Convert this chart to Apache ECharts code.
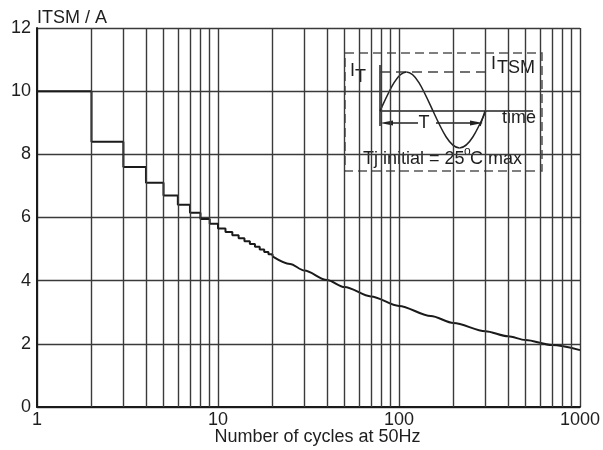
<!DOCTYPE html>
<html>
<head>
<meta charset="utf-8">
<script src="https://cdn.jsdelivr.net/npm/echarts@6/dist/echarts.min.js"></script>
<style>html,body{margin:0;padding:0;background:#fff}#c{width:603px;height:450px}</style>
</head>
<body>
<div id="c"></div>
<script>
// Step part of the curve (cycles 1..20)
const stepCycles = [1,2,3,4,5,6,7,8,9,10,11,12,13,14,15,16,17,18,19,20];
const stepItsm   = [10.0,8.4,7.6,7.1,6.7,6.4,6.15,5.95,5.8,5.65,5.54,5.44,5.34,5.25,5.16,5.07,4.99,4.91,4.84,4.77];
// Smooth part of the curve (cycles 20..1000)
const curveCycles = [20,25,30,40,50,70,100,150,200,300,400,500,700,1000];
const curveItsm   = [4.77,4.53,4.32,4.02,3.8,3.5,3.2,2.88,2.66,2.4,2.24,2.12,1.96,1.8];
// Minor vertical grid lines of the log axis
const minorGridX = [2,3,4,5,6,7,8,9,20,30,40,50,60,70,80,90,200,300,400,500,600,700,800,900];
const xTickLabels = ['1','10','100','1000'];
const yTickLabels = ['0','2','4','6','8','10','12'];

const FONT = '"Liberation Sans", Arial, sans-serif';
const TXT = '#1e1e1e';
const GRID = '#3a3a3a';

const chart = echarts.init(document.getElementById('c'));
const zip = (a, b) => a.map((v, i) => [v, b[i]]);

const sinePts = [
  [380,111, 388.9,91.6, 397,72, 406.5,72],
  [406.5,72, 416,72, 424.1,91.6, 433,111],
  [433,111, 441.9,130.4, 450,148, 459.5,148],
  [459.5,148, 469,148, 477.1,130.4, 486,111]
];

chart.setOption({
  animation: false,
  backgroundColor: '#fff',
  grid: { left: 37, right: 23, top: 28, bottom: 43, containLabel: false, outerBoundsMode: 'none' },
  xAxis: {
    type: 'log', logBase: 10, min: 1, max: 1000,
    name: 'Number of cycles at 50Hz',
    nameLocation: 'middle', nameGap: 30, nameMoveOverlap: false,
    nameTextStyle: { fontFamily: FONT, fontSize: 18, color: TXT, verticalAlign: 'middle', padding: [0,0,0,18] },
    axisLine: { show: true, lineStyle: { color: '#1a1a1a', width: 2 } },
    axisTick: { show: false },
    axisLabel: { fontFamily: FONT, fontSize: 18, color: TXT, margin: 4,
      formatter: v => { const s = String(Math.round(v)); return xTickLabels.indexOf(s) >= 0 ? s : ''; } },
    splitLine: { show: true, lineStyle: { color: GRID, width: 1.4 } }
  },
  yAxis: {
    type: 'value', min: 0, max: 12, interval: 2,
    name: 'ITSM / A', nameLocation: 'end', nameGap: 10, nameMoveOverlap: false,
    nameTextStyle: { fontFamily: FONT, fontSize: 18, color: TXT, align: 'left', verticalAlign: 'middle' },
    axisLine: { show: true, lineStyle: { color: '#1a1a1a', width: 2 } },
    axisTick: { show: false },
    axisLabel: { fontFamily: FONT, fontSize: 18, color: TXT, margin: 6,
      formatter: v => yTickLabels[Math.round(v / 2)] },
    splitLine: { show: true, lineStyle: { color: GRID, width: 1.4 } }
  },
  series: [
    {
      type: 'line', data: [], silent: true, z: 1,
      markLine: {
        silent: true, symbol: ['none','none'], label: { show: false },
        lineStyle: { color: GRID, width: 1.4, type: 'solid' },
        data: minorGridX.map(v => ({ xAxis: v }))
      }
    },
    {
      type: 'line', step: 'end', showSymbol: false, symbol: 'none', z: 3,
      data: zip(stepCycles, stepItsm),
      lineStyle: { color: '#1a1a1a', width: 2 }
    },
    {
      type: 'line', smooth: 0.3, smoothMonotone: 'x', showSymbol: false, symbol: 'none', z: 3,
      data: zip(curveCycles, curveItsm),
      lineStyle: { color: '#1a1a1a', width: 2 }
    }
  ],
  graphic: [{
    type: 'group', z: 100,
    children: [
      { type: 'rect', shape: { x: 345, y: 53, width: 197, height: 118 },
        style: { fill: '#fff', stroke: '#555', lineWidth: 1.5, lineDash: [9,5] } },
      { type: 'line', shape: { x1: 380, y1: 65, x2: 380, y2: 126 }, style: { stroke: '#222', lineWidth: 1.5 } },
      { type: 'line', shape: { x1: 380, y1: 111, x2: 533, y2: 111 }, style: { stroke: '#222', lineWidth: 1.5 } },
      { type: 'line', shape: { x1: 380, y1: 72, x2: 492, y2: 72 }, style: { stroke: '#444', lineWidth: 1.5, lineDash: [10,6] } },
      ...sinePts.map(p => ({ type: 'bezierCurve',
        shape: { x1: p[0], y1: p[1], cpx1: p[2], cpy1: p[3], cpx2: p[4], cpy2: p[5], x2: p[6], y2: p[7] },
        style: { stroke: '#222', lineWidth: 1.5, fill: null } })),
      { type: 'line', shape: { x1: 390, y1: 123, x2: 418, y2: 123 }, style: { stroke: '#222', lineWidth: 1.5 } },
      { type: 'line', shape: { x1: 436, y1: 123, x2: 474, y2: 123 }, style: { stroke: '#222', lineWidth: 1.5 } },
      { type: 'polygon', shape: { points: [[380,123],[393,120.5],[393,125.5]] }, style: { fill: '#222' } },
      { type: 'polygon', shape: { points: [[483,123],[470,120.5],[470,125.5]] }, style: { fill: '#222' } },
      { type: 'line', shape: { x1: 485, y1: 111, x2: 480, y2: 126 }, style: { stroke: '#222', lineWidth: 1.5 } },
      { type: 'text', x: 350, y: 71, style: { text: 'I', font: '18px ' + FONT, fill: TXT, verticalAlign: 'middle' } },
      { type: 'text', x: 355, y: 77, style: { text: 'T', font: '18px ' + FONT, fill: TXT, verticalAlign: 'middle' } },
      { type: 'text', x: 491, y: 64, style: { text: 'I', font: '18px ' + FONT, fill: TXT, verticalAlign: 'middle' } },
      { type: 'text', x: 497, y: 68.5, style: { text: 'TSM', font: '18px ' + FONT, fill: TXT, verticalAlign: 'middle' } },
      { type: 'text', x: 424, y: 123, style: { text: 'T', font: '18px ' + FONT, fill: TXT, align: 'center', verticalAlign: 'middle' } },
      { type: 'text', x: 502, y: 118.5, style: { text: 'time', font: '18px ' + FONT, fill: TXT, verticalAlign: 'middle' } },
      { type: 'text', x: 363, y: 159, style: { text: 'Tj initial = 25', font: '18px ' + FONT, fill: TXT, verticalAlign: 'middle' } },
      { type: 'text', x: 464, y: 152, style: { text: 'o', font: '12px ' + FONT, fill: TXT, verticalAlign: 'middle' } },
      { type: 'text', x: 470, y: 159, style: { text: 'C max', font: '18px ' + FONT, fill: TXT, verticalAlign: 'middle' } }
    ]
  }]
});
</script>
</body>
</html>
